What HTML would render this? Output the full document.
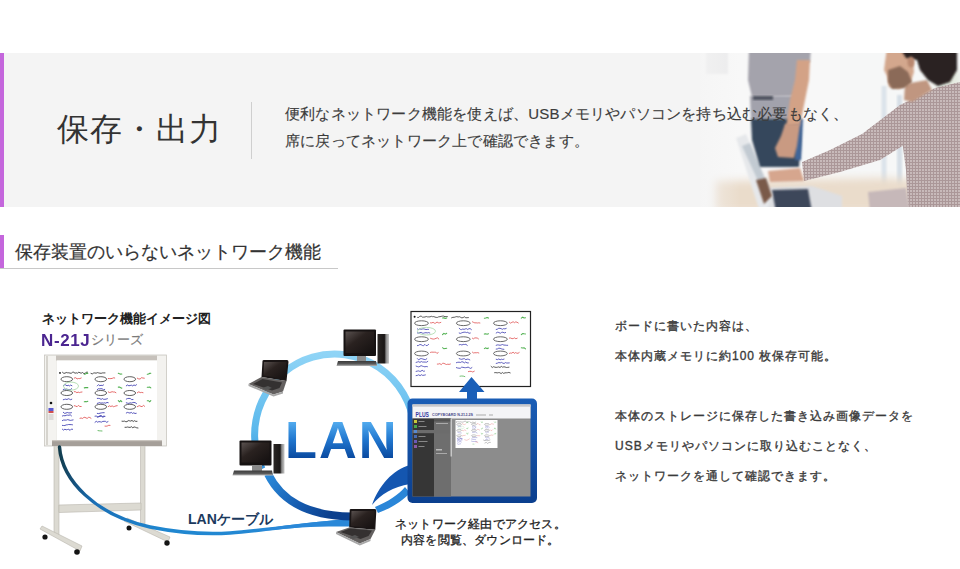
<!DOCTYPE html>
<html lang="ja">
<head>
<meta charset="utf-8">
<style>
html,body{margin:0;padding:0;background:#fff;}
body{width:960px;height:569px;overflow:hidden;position:relative;font-family:"Liberation Sans",sans-serif;color:#333;}
.abs{position:absolute;white-space:nowrap;}
#banner{position:absolute;left:0;top:53px;width:960px;height:154px;background:#f4f4f4;overflow:hidden;}
#banner .bar{position:absolute;left:0;top:0;width:4px;height:154px;background:#c466dc;}
#title{left:57px;top:60px;font-size:32px;line-height:32px;letter-spacing:1px;color:#333;}
#divider{position:absolute;left:251px;top:49px;width:1px;height:57px;background:#cfcfcf;}
.desc{left:285px;font-size:15px;line-height:15px;color:#3c3c3c;letter-spacing:0.2px;-webkit-text-stroke:0.15px #3c3c3c;}
#h2bar{position:absolute;left:0;top:235px;width:4px;height:33px;background:#c466dc;}
#h2line{position:absolute;left:0;top:268px;width:338px;height:1px;background:#c8c8c8;}
#h2{left:15px;top:243px;font-size:18px;line-height:18px;color:#333;-webkit-text-stroke:0.2px #333;}
.rt{left:615px;font-size:12px;line-height:12px;font-weight:normal;color:#3a3a3a;letter-spacing:1px;-webkit-text-stroke:0.35px #3a3a3a;}
#svg{position:absolute;left:0;top:0;}
</style>
</head>
<body>
<div id="banner">
  <svg width="960" height="154" style="position:absolute;left:0;top:0" viewBox="0 53 960 154">
    <defs>
      <linearGradient id="fadeL" x1="0" x2="1" y1="0" y2="0">
        <stop offset="0" stop-color="#f4f4f4" stop-opacity="1"/>
        <stop offset="1" stop-color="#f4f4f4" stop-opacity="0"/>
      </linearGradient>
      <pattern id="chk" width="3" height="3" patternUnits="userSpaceOnUse">
        <rect width="3" height="3" fill="#c8baba"/>
        <rect width="3" height="1" fill="#ab9798"/>
        <rect width="1" height="3" fill="#ab9798"/>
      </pattern>
      <filter id="b05" x="-10%" y="-10%" width="120%" height="120%"><feGaussianBlur stdDeviation="0.7"/></filter>
      <filter id="b1" x="-20%" y="-20%" width="140%" height="140%"><feGaussianBlur stdDeviation="1.2"/></filter>
      <filter id="b3" x="-20%" y="-20%" width="140%" height="140%"><feGaussianBlur stdDeviation="4"/></filter>
    </defs>
    <!-- photo background -->
    <rect x="700" y="53" width="260" height="154" fill="#f8f8f8"/>
    <rect x="840" y="53" width="120" height="154" fill="#f6f7f7"/>
    <!-- window frame strips -->
    <rect x="881.5" y="86" width="5" height="114" fill="#dbe3ea" filter="url(#b1)"/>
    <rect x="897" y="95" width="5" height="105" fill="#d6dee6" filter="url(#b1)"/>
    <rect x="936" y="70" width="24" height="50" fill="#e4eadf" filter="url(#b3)"/>
    <!-- table -->
    <path d="M715 181 L880 178 L960 182 L960 212 L715 212 Z" fill="#eadccb" filter="url(#b3)"/>
    <!-- laptop base silver -->
    <path d="M758 188 L812 186 L842 196 L842 212 L762 212 Z" fill="#dedfe2" filter="url(#b1)"/>
    <!-- keyboard -->
    <path d="M772 190 L808 189 L812 212 L776 212 Z" fill="#3e465a" filter="url(#b1)"/>
    <!-- laptop lid (silver, slanted) -->
    <path d="M736 138 L746 134 L772 196 L766 212 L760 212 Z" fill="#e6e8eb" filter="url(#b1)"/>
    <path d="M742 146 L750 143 L768 186 L763 192 Z" fill="#c2cad2" filter="url(#b1)"/>
    <path d="M756 180 L766 178 L772 196 L764 204 Z" fill="#7a5a4a" filter="url(#b1)"/>
    <!-- faint window top-left -->
    <rect x="706" y="48" width="22" height="26" fill="#ebebec" filter="url(#b1)"/>
    <!-- standing person: shirt -->
    <path d="M749 48 L811 48 L810 62 L800 64 L800 96 L752 97 L748 80 Z" fill="#a4a3ac" filter="url(#b1)"/>
    <!-- lower band -->
    <path d="M750 96 L798 96 L797 120 L751 120 Z" fill="#a2a2ac" filter="url(#b1)"/>
    <rect x="753" y="96" width="20" height="4" fill="#50535e" filter="url(#b1)"/>
    <!-- jeans -->
    <path d="M751 119 L801 119 L801 140 L799 167 L760 167 L752 140 Z" fill="#35465c" filter="url(#b1)"/>
    <path d="M795 119 L803 119 L801 160 L795 160 Z" fill="#3f6598" filter="url(#b1)"/>
    <!-- standing person arm -->
    <path d="M797 60 L810 60 L809 80 L805 100 L800 125 L786 127 L790 100 L795 80 Z" fill="#d3a286" filter="url(#b1)"/>
    <path d="M785 124 L800 124 L797 146 L794 158 L778 157 L775 148 L781 136 Z" fill="#c99a82" filter="url(#b1)"/>
    <!-- man's arm (sleeve) -->
    <path d="M802 162 L830 150 L862 134 L884 118 L902 108 L912 140 L880 160 L840 172 L804 181 Z" fill="url(#chk)" filter="url(#b05)"/>
    <!-- hand -->
    <path d="M768 171 L800 168 L804 181 L770 182 Z" fill="#d6a68e" filter="url(#b1)"/>
    <!-- man torso shirt -->
    <path d="M866 131 L900 105 L935 88 L960 82 L960 212 L908 212 L906 170 L902 140 Z" fill="url(#chk)" filter="url(#b05)"/>
    <path d="M868 192 L906 188 L910 212 L870 212 Z" fill="#c6b8b9" filter="url(#b1)"/>
    <!-- neck -->
    <path d="M905 84 L927 80 L932 90 L912 102 L904 100 Z" fill="#c09680" filter="url(#b1)"/>
    <!-- face -->
    <path d="M887 48 L912 48 L914 72 L910 84 L899 89 L889 87 L887 76 L884 70 L885 62 Z" fill="#d3a78d" filter="url(#b1)"/>
    <!-- beard -->
    <path d="M888 70 L900 66 L908 72 L912 82 L904 88 L892 89 L888 82 Z" fill="#8b6a58" filter="url(#b1)"/>
    <!-- hair -->
    <path d="M900 48 L957 48 L957 70 L950 82 L938 86 L928 80 L920 70 L917 60 L906 58 Z" fill="#2b2420" filter="url(#b1)"/>
    <!-- ear -->
    <ellipse cx="911" cy="62" rx="3.5" ry="5.5" fill="#b98870" filter="url(#b1)"/>
    <!-- fade to left -->
    <rect x="680" y="53" width="60" height="154" fill="url(#fadeL)"/>
  </svg>
  <div class="bar"></div>
  <div id="title" class="abs">保存・出力</div>
  <div id="divider"></div>
  <div class="abs desc" style="top:53px">便利なネットワーク機能を使えば、USBメモリやパソコンを持ち込む必要もなく、</div>
  <div class="abs desc" style="top:80px">席に戻ってネットワーク上で確認できます。</div>
</div>

<div id="h2bar"></div>
<div id="h2line"></div>
<div id="h2" class="abs">保存装置のいらないネットワーク機能</div>

<svg id="diag" width="960" height="569" viewBox="0 0 960 569" style="position:absolute;left:0;top:0">
  <defs>
    <linearGradient id="ringG" x1="0" y1="354" x2="0" y2="520" gradientUnits="userSpaceOnUse">
      <stop offset="0" stop-color="#8fd4f6"/>
      <stop offset="0.46" stop-color="#5ab8ec"/>
      <stop offset="0.73" stop-color="#2b8ad8"/>
      <stop offset="0.92" stop-color="#114a9c"/>
      <stop offset="1" stop-color="#0c3f8e"/>
    </linearGradient>
    <linearGradient id="ringLow" x1="268" y1="476" x2="330" y2="516" gradientUnits="userSpaceOnUse">
      <stop offset="0" stop-color="#2a88d8"/>
      <stop offset="0.6" stop-color="#1458ac"/>
      <stop offset="1" stop-color="#0c3f8c"/>
    </linearGradient>
    <linearGradient id="lanG" x1="0" y1="421" x2="0" y2="458" gradientUnits="userSpaceOnUse">
      <stop offset="0" stop-color="#55aef0"/>
      <stop offset="0.5" stop-color="#2177cf"/>
      <stop offset="1" stop-color="#0a4aa0"/>
    </linearGradient>
    <linearGradient id="cableG" x1="59" y1="0" x2="350" y2="0" gradientUnits="userSpaceOnUse">
      <stop offset="0" stop-color="#123c4c"/>
      <stop offset="0.05" stop-color="#15507a"/>
      <stop offset="0.12" stop-color="#1a6fb6"/>
      <stop offset="0.35" stop-color="#1f86cf"/>
      <stop offset="1" stop-color="#2a8ad8"/>
    </linearGradient>
    <linearGradient id="monG" x1="0" y1="0" x2="1" y2="1">
      <stop offset="0" stop-color="#5a5250"/>
      <stop offset="0.4" stop-color="#2a2220"/>
      <stop offset="1" stop-color="#141010"/>
    </linearGradient>
    <linearGradient id="towerG" x1="0" y1="0" x2="1" y2="0">
      <stop offset="0" stop-color="#2a2624"/>
      <stop offset="0.6" stop-color="#1a1716"/>
      <stop offset="0.75" stop-color="#8a8a8a"/>
      <stop offset="1" stop-color="#c8c8c8"/>
    </linearGradient>
    <linearGradient id="kbG" x1="0" y1="0" x2="0" y2="1">
      <stop offset="0" stop-color="#3a3a3a"/>
      <stop offset="0.6" stop-color="#5a5a5a"/>
      <stop offset="1" stop-color="#b8b8b8"/>
    </linearGradient>
    <linearGradient id="frameG" x1="0" y1="0" x2="0" y2="1">
      <stop offset="0" stop-color="#1a5db5"/>
      <stop offset="1" stop-color="#0b3f8e"/>
    </linearGradient>
    <filter id="sb" x="-10%" y="-10%" width="120%" height="120%"><feGaussianBlur stdDeviation="0.5"/></filter>
  </defs>

  <!-- ===== Whiteboard stand ===== -->
  <g fill="#dcdad2" stroke="#b9b6ad" stroke-width="0.6">
    <rect x="54" y="444" width="5" height="91"/>
    <rect x="140.5" y="444" width="4.5" height="80"/>
    <path d="M59 505 L141 503 L141 510 L59 512.5 Z"/>
    <path d="M40 529 L42 526 L82 546 L80 551 Z"/>
    <path d="M124 521 L127 518 L170 537 L168 542 Z"/>
  </g>
  <g fill="#141414">
    <circle cx="45" cy="537" r="2.6"/>
    <circle cx="77" cy="552" r="2.8"/>
    <circle cx="129" cy="528" r="2.5"/>
    <circle cx="167" cy="543" r="2.7"/>
  </g>

  <!-- ===== Whiteboard ===== -->
  <rect x="44.5" y="355" width="122" height="91" fill="#efeeea" stroke="#c9c6c0" stroke-width="0.8"/>
  <rect x="45" y="356" width="11" height="89" fill="#f4f3f0"/>
  <rect x="46" y="356" width="2" height="89" fill="#d6d4ce"/>
  <rect x="157" y="356" width="9" height="89" fill="#f3f2ef"/>
  <rect x="56" y="355.5" width="101" height="5" fill="#c6c1bb"/>
  <rect x="57" y="360.5" width="100" height="80" fill="#ffffff"/>
  <rect x="52" y="440" width="110" height="6" fill="#a59f99"/>
  <rect x="52" y="440" width="110" height="1.2" fill="#c9c4be"/>
  <circle cx="51" cy="403" r="1.3" fill="#111"/>
  <rect x="48.5" y="408" width="5" height="3" fill="#5a5ad0"/>
  <rect x="48.5" y="411" width="5" height="2" fill="#d05050"/>
  <rect x="48.5" y="414" width="5" height="6" fill="#dcdad8"/>
  <g>
<circle cx="60.0" cy="372.9" r="0.9" fill="#111"/>
<polyline points="62.5 372.3 63.8 373.3 65.0 373.2 66.2 372.5 67.5 372.8 68.8 372.8 70.0 373.1 71.2 373.3 72.5 372.3 73.8 372.2 75.0 373.3 76.2 372.8 77.5 373.2 78.8 372.2 80.0 372.8 81.2 373.2 82.5 372.5 83.8 373.5 85.0 373.4 86.2 372.2 87.5 372.2" fill="none" stroke="#333" stroke-width="0.85" stroke-linecap="round"/>
<polyline points="91.0 373.4 92.3 373.9 93.5 373.1 94.8 372.9 96.1 373.2 97.4 372.6 98.6 372.9 99.9 373.2 101.2 373.3 102.5 372.9 103.7 372.9 105.0 372.9" fill="none" stroke="#333" stroke-width="0.85" stroke-linecap="round"/>
<ellipse cx="66.8" cy="379.2" rx="5.8" ry="2.5" fill="none" stroke="#555" stroke-width="0.94"/>
<polyline points="74.3 378.1 75.7 377.7 77.1 378.9 78.4 378.5 79.8 378.6 81.2 378.0" fill="none" stroke="#e05050" stroke-width="0.85" stroke-linecap="round"/>
<polyline points="84.3 374.3 85.5 374.1 86.7 373.1 87.8 373.4" fill="none" stroke="#50b050" stroke-width="1.10" stroke-linecap="round"/>
<polyline points="63.3 385.8 64.5 384.8 65.8 384.9 67.0 385.9 68.2 385.2 69.4 385.9 70.6 385.1 71.9 385.7" fill="none" stroke="#3a3ab0" stroke-width="0.85" stroke-linecap="round"/>
<polyline points="63.3 389.5 64.5 389.1 65.7 389.4 66.9 389.0 68.1 389.7 69.3 389.6 70.5 389.5 71.7 388.6" fill="none" stroke="#3a3ab0" stroke-width="0.85" stroke-linecap="round"/>
<ellipse cx="66.8" cy="393.0" rx="5.8" ry="2.5" fill="none" stroke="#555" stroke-width="0.94"/>
<polyline points="74.3 391.7 75.6 391.8 76.9 392.7 78.2 392.1 79.4 392.6 80.7 392.2 82.0 392.0" fill="none" stroke="#e05050" stroke-width="0.85" stroke-linecap="round"/>
<polyline points="84.3 387.9 85.5 387.6 86.7 387.5 87.8 387.6" fill="none" stroke="#50b050" stroke-width="1.10" stroke-linecap="round"/>
<polyline points="63.3 399.7 64.5 399.4 65.8 399.1 67.0 399.6 68.2 398.7 69.4 399.1 70.6 399.7 71.8 399.2" fill="none" stroke="#3a3ab0" stroke-width="0.85" stroke-linecap="round"/>
<ellipse cx="66.8" cy="406.8" rx="5.8" ry="2.5" fill="none" stroke="#555" stroke-width="0.94"/>
<polyline points="74.3 405.7 75.7 406.1 77.1 406.7 78.4 405.4 79.8 406.5 81.2 406.5" fill="none" stroke="#e05050" stroke-width="0.85" stroke-linecap="round"/>
<polyline points="84.3 401.8 85.5 401.6 86.7 401.7 87.8 401.3" fill="none" stroke="#50b050" stroke-width="1.10" stroke-linecap="round"/>
<polyline points="63.3 412.3 64.7 413.4 66.0 413.0 67.4 412.5 68.7 412.9 70.1 412.9 71.5 412.7" fill="none" stroke="#3a3ab0" stroke-width="0.85" stroke-linecap="round"/>
<ellipse cx="100.8" cy="379.2" rx="5.8" ry="2.5" fill="none" stroke="#555" stroke-width="0.94"/>
<polyline points="108.3 378.5 109.6 378.6 110.9 378.6 112.2 378.4 113.4 377.8 114.7 378.0" fill="none" stroke="#e05050" stroke-width="0.85" stroke-linecap="round"/>
<polyline points="118.3 373.2 119.5 373.7 120.7 374.1 121.8 374.0" fill="none" stroke="#50b050" stroke-width="1.10" stroke-linecap="round"/>
<polyline points="97.3 385.9 98.6 384.6 99.8 385.8 101.0 385.2 102.2 385.6 103.5 384.9" fill="none" stroke="#3a3ab0" stroke-width="0.85" stroke-linecap="round"/>
<polyline points="97.3 389.6 98.5 388.7 99.8 388.9 101.0 388.7 102.2 388.8 103.4 389.8 104.7 389.4" fill="none" stroke="#3a3ab0" stroke-width="0.85" stroke-linecap="round"/>
<ellipse cx="100.8" cy="393.0" rx="5.8" ry="2.5" fill="none" stroke="#555" stroke-width="0.94"/>
<polyline points="108.3 391.9 109.6 392.5 110.9 392.2 112.1 391.7 113.4 392.0 114.7 392.0 115.9 392.7" fill="none" stroke="#e05050" stroke-width="0.85" stroke-linecap="round"/>
<polyline points="118.3 387.1 119.5 387.1 120.7 387.8 121.8 388.1" fill="none" stroke="#50b050" stroke-width="1.10" stroke-linecap="round"/>
<polyline points="97.3 398.4 98.6 398.4 99.8 398.6 101.1 399.4 102.4 398.6 103.6 399.3 104.9 399.3 106.1 399.1 107.4 398.7" fill="none" stroke="#3a3ab0" stroke-width="0.85" stroke-linecap="round"/>
<polyline points="97.3 403.4 98.5 403.0 99.7 402.6 100.9 403.2 102.2 402.9 103.4 403.1 104.6 402.8 105.8 403.2 107.0 402.4 108.2 402.7" fill="none" stroke="#3a3ab0" stroke-width="0.85" stroke-linecap="round"/>
<ellipse cx="100.8" cy="406.8" rx="5.8" ry="2.5" fill="none" stroke="#555" stroke-width="0.94"/>
<polyline points="108.3 406.6 109.6 405.8 110.9 406.6 112.1 405.8 113.4 406.7 114.7 406.4 115.9 405.9 117.2 405.7" fill="none" stroke="#e05050" stroke-width="0.85" stroke-linecap="round"/>
<polyline points="118.3 400.6 119.5 401.8 120.7 400.6 121.8 401.7" fill="none" stroke="#50b050" stroke-width="1.10" stroke-linecap="round"/>
<polyline points="97.3 413.4 98.7 413.6 100.1 413.2 101.4 412.9 102.8 412.7 104.2 412.7" fill="none" stroke="#3a3ab0" stroke-width="0.85" stroke-linecap="round"/>
<polyline points="97.3 417.1 98.7 416.7 100.1 416.4 101.5 416.3 102.9 417.1 104.3 416.6" fill="none" stroke="#3a3ab0" stroke-width="0.85" stroke-linecap="round"/>
<ellipse cx="129.8" cy="379.2" rx="5.8" ry="2.5" fill="none" stroke="#555" stroke-width="0.94"/>
<polyline points="137.3 378.2 138.7 378.9 140.1 379.0 141.5 377.7 142.9 378.0 144.3 378.2" fill="none" stroke="#e05050" stroke-width="0.85" stroke-linecap="round"/>
<polyline points="147.3 374.3 148.5 374.0 149.7 373.4 150.8 373.2" fill="none" stroke="#50b050" stroke-width="1.10" stroke-linecap="round"/>
<polyline points="126.3 385.8 127.6 385.0 128.9 385.8 130.1 385.5 131.4 385.2 132.7 385.9 134.0 384.9 135.2 385.6 136.5 384.7" fill="none" stroke="#3a3ab0" stroke-width="0.85" stroke-linecap="round"/>
<ellipse cx="129.8" cy="393.0" rx="5.8" ry="2.5" fill="none" stroke="#555" stroke-width="0.94"/>
<polyline points="137.3 392.8 138.8 391.8 140.2 392.6 141.6 392.4 143.0 392.7" fill="none" stroke="#e05050" stroke-width="0.85" stroke-linecap="round"/>
<polyline points="147.3 387.2 148.5 387.2 149.7 387.1 150.8 387.9" fill="none" stroke="#50b050" stroke-width="1.10" stroke-linecap="round"/>
<polyline points="126.3 399.1 127.7 398.5 129.0 398.4 130.3 398.5 131.7 399.6 133.0 399.5" fill="none" stroke="#3a3ab0" stroke-width="0.85" stroke-linecap="round"/>
<polyline points="126.3 402.8 127.6 403.2 128.9 403.4 130.1 402.8 131.4 403.1 132.7 402.6 133.9 402.4 135.2 402.7 136.5 403.6" fill="none" stroke="#3a3ab0" stroke-width="0.85" stroke-linecap="round"/>
<ellipse cx="129.8" cy="406.8" rx="5.8" ry="2.5" fill="none" stroke="#555" stroke-width="0.94"/>
<polyline points="137.3 406.7 138.5 406.0 139.8 405.7 141.0 406.5 142.2 406.5 143.4 405.4 144.6 406.3" fill="none" stroke="#e05050" stroke-width="0.85" stroke-linecap="round"/>
<polyline points="147.3 400.7 148.5 400.7 149.7 401.8 150.8 400.6" fill="none" stroke="#50b050" stroke-width="1.10" stroke-linecap="round"/>
<polyline points="126.3 413.0 127.6 412.4 128.8 412.8 130.0 413.1 131.3 412.4 132.5 413.4 133.8 412.8 135.0 413.5 136.2 413.3" fill="none" stroke="#3a3ab0" stroke-width="0.85" stroke-linecap="round"/>
<polyline points="62.4 416.0 63.7 415.6 65.0 415.8 66.3 415.3 67.6 415.1 68.9 415.3 70.2 414.8 71.5 415.9" fill="none" stroke="#3a3ab0" stroke-width="0.85" stroke-linecap="round"/>
<polyline points="62.4 420.6 63.7 420.0 65.0 420.1 66.4 420.1 67.7 419.6 69.0 420.0 70.4 420.4 71.7 420.2 73.1 419.9" fill="none" stroke="#3a3ab0" stroke-width="0.85" stroke-linecap="round"/>
<polyline points="62.4 425.4 63.6 425.5 64.9 425.5 66.2 424.9 67.4 424.8 68.7 424.5 70.0 424.6 71.2 424.6 72.5 424.8" fill="none" stroke="#3a3ab0" stroke-width="0.85" stroke-linecap="round"/>
<polyline points="62.4 429.2 63.6 430.1 64.9 429.2 66.2 429.8 67.5 429.5 68.8 429.3 70.1 430.4 71.3 429.1 72.6 429.3" fill="none" stroke="#3a3ab0" stroke-width="0.85" stroke-linecap="round"/>
<polyline points="80.0 418.3 81.2 418.0 82.4 418.5 83.7 417.5 84.9 417.3 86.1 418.0 87.3 418.3 88.6 417.3 89.8 417.5 91.0 418.3" fill="none" stroke="#e05050" stroke-width="0.85" stroke-linecap="round"/>
<polyline points="95.0 416.2 96.2 416.0 97.5 416.8 98.8 416.6 100.0 415.6 101.2 415.6 102.5 416.7 103.8 416.1 105.0 416.3" fill="none" stroke="#3a3ab0" stroke-width="0.85" stroke-linecap="round"/>
<polyline points="95.0 422.3 96.3 421.3 97.6 422.2 98.9 421.6 100.2 421.8 101.5 422.1 102.8 421.4 104.1 421.3 105.4 421.3 106.7 422.3 108.0 421.6" fill="none" stroke="#3a3ab0" stroke-width="0.85" stroke-linecap="round"/>
<polyline points="105.0 426.1 106.2 426.2 107.5 425.9 108.8 425.3 110.0 425.4" fill="none" stroke="#e05050" stroke-width="0.85" stroke-linecap="round"/>
<polyline points="98.0 430.6 99.3 430.8 100.7 430.9 102.0 431.0" fill="none" stroke="#50b050" stroke-width="0.85" stroke-linecap="round"/>
<polyline points="122.0 421.2 123.2 421.3 124.5 421.1 125.8 421.7 127.0 421.7 128.2 420.6 129.5 420.8 130.8 421.1 132.0 420.4 133.2 421.5 134.5 420.7 135.8 421.4 137.0 421.3" fill="none" stroke="#333" stroke-width="0.85" stroke-linecap="round"/>
<polyline points="125.0 427.3 126.3 427.3 127.6 427.0 128.9 427.3 130.2 427.4 131.5 426.7 132.8 427.8 134.1 426.9 135.4 427.3 136.7 427.8 138.0 428.0" fill="none" stroke="#333" stroke-width="0.85" stroke-linecap="round"/>
<ellipse cx="71.0" cy="386.1" rx="7.5" ry="4.0" fill="none" stroke="#a8d8a8" stroke-width="0.85"/>
  </g>

  <!-- ===== LAN cable ===== -->
  <path d="M59.5 447 C 62 480, 95 515, 150 527 C 175 532, 200 535, 230 533 C 270 530, 310 523, 350 521" fill="none" stroke="url(#cableG)" stroke-width="3.4" stroke-linecap="round"/>
  <path d="M262 529 C 295 524, 322 521, 350 519 L 350 526.5 C 322 526, 295 527, 262 531 Z" fill="#2a88d8"/>

  <!-- ===== LAN ring ===== -->
  <path d="M262 469 A 80 81 0 1 1 414 425" fill="none" stroke="url(#ringG)" stroke-width="7"/>
  <path d="M268 474 C 281 500, 306 516, 352 516.5" fill="none" stroke="url(#ringLow)" stroke-width="8"/>
  <!-- swoosh from ring to screen -->
  <path d="M410 465 C 393 469, 378 487, 372 505 C 381 494, 393 487, 410 484 Z" fill="#1456b0"/>
  <path d="M405 487 C 398 495, 389 501, 375 507 L 378 513 C 392 508, 402 501, 410 493 Z" fill="#2a86d8"/>

  <!-- LAN text -->
  <text x="285" y="458" font-family="Liberation Sans" font-weight="bold" font-size="52.3" letter-spacing="2" fill="url(#lanG)">LAN</text>

  <!-- ===== Top desktop ===== -->
  <g>
    <rect x="343.5" y="329.5" width="32.5" height="26.5" rx="1" fill="#161212"/><rect x="345.5" y="331.5" width="28.5" height="21.5" fill="url(#monG)"/>
    <rect x="357" y="356" width="9" height="5" fill="#8a8a8a"/>
    <path d="M338 361 L376 361 L377 366 L336.5 366 Z" fill="url(#kbG)"/>
    <rect x="377.5" y="334" width="11.5" height="29.5" fill="url(#towerG)"/>
  </g>
  <!-- ===== Left desktop ===== -->
  <g>
    <rect x="239.5" y="440.5" width="32" height="25" rx="1" fill="#161212"/><rect x="241.5" y="442.5" width="28" height="20" fill="url(#monG)"/>
    <rect x="252" y="465" width="10" height="6" fill="#8a8a8a"/>
    <path d="M234 470.5 L272 470.5 L273 475.5 L232.5 475.5 Z" fill="url(#kbG)"/>
    <rect x="273.5" y="444" width="11" height="29.5" fill="url(#towerG)"/>
  </g>
  <!-- ===== Upper-left laptop ===== -->
  <g>
    <path d="M262.5 361 Q262.5 360 264 360 L287 360 Q288.5 360 288.5 362 L286.5 381 L261.5 377 Z" fill="#1a1515"/>
    <path d="M264 362 L286.5 362 L285 379 L263.5 375.5 Z" fill="url(#monG)"/>
    <path d="M248.5 384 L261.5 377 L286.5 381 L283 391.5 L273.5 394.5 Z" fill="#646160"/>
    <path d="M253 384 L262.5 379 L282 382.5 L279.5 388 L272 390.5 Z" fill="#343131"/>
    <path d="M262 388 L268 386 L272 388 L266 390 Z" fill="#555"/>
    <path d="M248.5 384 L273.5 394.5 L283 391.5 L283 393.5 L273.5 396.5 L248.5 386 Z" fill="#a8a8a8"/>
  </g>
  <!-- ===== Bottom laptop ===== -->
  <g>
    <path d="M349.7 510 Q349.7 509 351 509 L375 509 Q376.3 509 376.3 511 L375.3 529.8 L349.2 527.4 Z" fill="#1a1515"/>
    <path d="M351.5 511 L374.5 511 L373.8 528 L351 526 Z" fill="url(#monG)"/>
    <path d="M336 532 L349.2 527.4 L375.3 529.8 L370.5 539 L359.8 543.4 Z" fill="#646160"/>
    <path d="M340.5 532 L350 528.5 L372 530.5 L368.5 536 L360.5 539 Z" fill="#343131"/>
    <path d="M349 537 L355 535 L359 537 L353 539 Z" fill="#555"/>
    <path d="M336 532 L359.8 543.4 L370.5 539 L370.5 541 L359.8 545.5 L336 534 Z" fill="#a8a8a8"/>
  </g>

  <!-- ===== Printed whiteboard image ===== -->
  <rect x="411" y="311.5" width="119.5" height="75" fill="#fff" stroke="#222" stroke-width="1.2"/>
  <g>
<circle cx="414.6" cy="316.8" r="1.0" fill="#111"/>
<polyline points="417.6 317.4 418.8 317.4 420.1 316.1 421.3 316.2 422.6 317.2 423.8 317.1 425.0 317.0 426.3 316.5 427.5 316.9 428.8 316.9 430.0 316.9 431.3 316.3 432.5 316.7 433.8 316.6 435.0 317.1 436.2 317.4 437.5 317.4 438.7 316.8 440.0 316.7 441.2 316.4 442.5 316.1 443.7 316.1 445.0 316.7 446.2 316.5 447.4 316.6" fill="none" stroke="#333" stroke-width="0.80" stroke-linecap="round"/>
<polyline points="451.6 317.8 452.9 317.3 454.2 317.3 455.5 316.9 456.8 316.6 458.1 317.0 459.4 316.7 460.6 317.3 461.9 317.9 463.2 317.5 464.5 316.8 465.8 317.8 467.1 317.7 468.4 317.6" fill="none" stroke="#333" stroke-width="0.80" stroke-linecap="round"/>
<ellipse cx="421.5" cy="323.2" rx="6.9" ry="2.4" fill="none" stroke="#555" stroke-width="0.88"/>
<polyline points="430.5 322.8 431.8 322.9 433.1 322.3 434.4 323.2 435.7 323.1 437.0 322.0 438.3 322.8 439.5 322.8 440.8 322.4" fill="none" stroke="#e05050" stroke-width="0.80" stroke-linecap="round"/>
<polyline points="442.5 318.0 443.9 317.9 445.3 318.5 446.7 317.9" fill="none" stroke="#50b050" stroke-width="1.04" stroke-linecap="round"/>
<polyline points="417.4 328.9 418.6 329.5 419.8 328.8 421.1 329.3 422.3 329.0 423.5 328.9 424.8 329.2 426.0 329.6 427.2 329.4 428.5 329.4" fill="none" stroke="#3a3ab0" stroke-width="0.80" stroke-linecap="round"/>
<polyline points="417.4 332.9 418.6 333.1 419.8 332.7 421.1 332.4 422.3 333.1 423.6 333.2 424.8 332.8 426.0 332.7 427.3 332.9 428.5 332.6 429.8 333.0" fill="none" stroke="#3a3ab0" stroke-width="0.80" stroke-linecap="round"/>
<ellipse cx="421.5" cy="339.2" rx="6.9" ry="2.4" fill="none" stroke="#555" stroke-width="0.88"/>
<polyline points="430.5 338.3 431.9 338.8 433.3 339.1 434.7 338.9 436.1 338.3 437.5 337.8 438.8 339.0" fill="none" stroke="#e05050" stroke-width="0.80" stroke-linecap="round"/>
<polyline points="442.5 334.7 443.9 333.4 445.3 334.1 446.7 333.3" fill="none" stroke="#50b050" stroke-width="1.04" stroke-linecap="round"/>
<polyline points="417.4 345.6 418.6 345.4 419.9 344.5 421.1 344.7 422.4 345.5 423.6 345.6 424.9 344.4 426.1 345.6 427.4 345.4 428.6 344.4" fill="none" stroke="#3a3ab0" stroke-width="0.80" stroke-linecap="round"/>
<ellipse cx="421.5" cy="353.5" rx="6.9" ry="2.4" fill="none" stroke="#555" stroke-width="0.88"/>
<polyline points="430.5 352.4 431.8 352.1 433.1 352.2 434.4 352.2 435.7 352.1 436.9 353.4 438.2 352.6" fill="none" stroke="#e05050" stroke-width="0.80" stroke-linecap="round"/>
<polyline points="442.5 347.7 443.9 348.8 445.3 348.5 446.7 348.3" fill="none" stroke="#50b050" stroke-width="1.04" stroke-linecap="round"/>
<polyline points="417.4 358.6 418.7 359.9 420.1 358.8 421.4 358.6 422.8 359.0 424.1 359.4 425.5 359.6 426.8 358.7" fill="none" stroke="#3a3ab0" stroke-width="0.80" stroke-linecap="round"/>
<ellipse cx="463.3" cy="323.2" rx="6.9" ry="2.4" fill="none" stroke="#555" stroke-width="0.88"/>
<polyline points="472.4 321.8 473.6 322.4 474.9 322.9 476.1 322.8 477.4 323.0 478.7 322.8 479.9 323.0" fill="none" stroke="#e05050" stroke-width="0.80" stroke-linecap="round"/>
<polyline points="484.3 318.2 485.7 317.9 487.1 317.5 488.5 318.1" fill="none" stroke="#50b050" stroke-width="1.04" stroke-linecap="round"/>
<polyline points="459.2 328.3 460.4 329.4 461.6 329.6 462.8 329.0 464.1 329.4 465.3 328.9 466.5 328.7 467.7 329.5 468.9 328.7 470.1 328.6 471.4 329.6" fill="none" stroke="#3a3ab0" stroke-width="0.80" stroke-linecap="round"/>
<polyline points="459.2 333.0 460.4 333.4 461.6 332.9 462.9 332.4 464.1 332.2 465.3 332.2 466.6 332.6 467.8 332.3 469.0 333.3 470.3 333.0" fill="none" stroke="#3a3ab0" stroke-width="0.80" stroke-linecap="round"/>
<ellipse cx="463.3" cy="339.2" rx="6.9" ry="2.4" fill="none" stroke="#555" stroke-width="0.88"/>
<polyline points="472.4 338.2 473.6 338.8 474.8 337.9 476.0 337.9 477.3 338.1 478.5 338.9" fill="none" stroke="#e05050" stroke-width="0.80" stroke-linecap="round"/>
<polyline points="484.3 334.1 485.7 333.8 487.1 334.2 488.5 333.7" fill="none" stroke="#50b050" stroke-width="1.04" stroke-linecap="round"/>
<polyline points="459.2 344.8 460.5 344.5 461.9 345.0 463.2 344.4 464.6 344.5 465.9 344.3 467.3 345.4" fill="none" stroke="#3a3ab0" stroke-width="0.80" stroke-linecap="round"/>
<ellipse cx="463.3" cy="353.5" rx="6.9" ry="2.4" fill="none" stroke="#555" stroke-width="0.88"/>
<polyline points="472.4 352.1 473.6 353.0 474.9 352.7 476.2 352.8 477.5 352.6 478.8 353.0" fill="none" stroke="#e05050" stroke-width="0.80" stroke-linecap="round"/>
<polyline points="484.3 348.6 485.7 347.8 487.1 348.6 488.5 348.1" fill="none" stroke="#50b050" stroke-width="1.04" stroke-linecap="round"/>
<polyline points="459.2 358.6 460.5 359.1 461.8 359.3 463.2 358.8 464.5 358.7 465.8 359.7 467.2 359.1 468.5 359.3 469.8 359.9" fill="none" stroke="#3a3ab0" stroke-width="0.80" stroke-linecap="round"/>
<ellipse cx="500.4" cy="323.2" rx="6.9" ry="2.4" fill="none" stroke="#555" stroke-width="0.88"/>
<polyline points="509.4 322.2 510.7 323.2 511.9 322.3 513.2 321.8 514.5 322.7 515.7 321.9 517.0 322.2 518.3 323.0" fill="none" stroke="#e05050" stroke-width="0.80" stroke-linecap="round"/>
<polyline points="521.3 318.2 522.7 317.2 524.1 317.9 525.5 317.8" fill="none" stroke="#50b050" stroke-width="1.04" stroke-linecap="round"/>
<polyline points="496.2 329.5 497.5 329.1 498.7 328.3 500.0 328.3 501.2 328.7 502.4 329.3 503.7 328.6 504.9 328.9 506.2 328.4" fill="none" stroke="#3a3ab0" stroke-width="0.80" stroke-linecap="round"/>
<polyline points="496.2 333.0 497.6 332.2 498.9 332.5 500.3 333.3 501.6 332.4 502.9 332.2 504.3 332.9 505.6 332.5" fill="none" stroke="#3a3ab0" stroke-width="0.80" stroke-linecap="round"/>
<ellipse cx="500.4" cy="339.2" rx="6.9" ry="2.4" fill="none" stroke="#555" stroke-width="0.88"/>
<polyline points="509.4 338.1 510.7 338.0 512.0 338.7 513.3 338.5 514.6 337.9 515.9 338.8 517.2 338.2" fill="none" stroke="#e05050" stroke-width="0.80" stroke-linecap="round"/>
<polyline points="521.3 334.6 522.7 333.5 524.1 333.8 525.5 333.9" fill="none" stroke="#50b050" stroke-width="1.04" stroke-linecap="round"/>
<polyline points="496.2 345.3 497.5 344.9 498.8 345.0 500.1 345.3 501.3 344.9 502.6 344.5 503.9 345.1 505.1 345.1 506.4 345.3 507.7 345.3" fill="none" stroke="#3a3ab0" stroke-width="0.80" stroke-linecap="round"/>
<polyline points="496.2 349.1 497.5 348.9 498.8 348.2 500.1 348.3 501.3 348.8 502.6 349.2 503.9 349.3" fill="none" stroke="#3a3ab0" stroke-width="0.80" stroke-linecap="round"/>
<ellipse cx="500.4" cy="353.5" rx="6.9" ry="2.4" fill="none" stroke="#555" stroke-width="0.88"/>
<polyline points="509.4 353.4 510.6 353.0 511.8 353.2 513.1 352.1 514.3 353.4 515.5 352.6 516.7 353.1 518.0 353.3 519.2 352.5" fill="none" stroke="#e05050" stroke-width="0.80" stroke-linecap="round"/>
<polyline points="521.3 347.8 522.7 347.9 524.1 347.7 525.5 348.9" fill="none" stroke="#50b050" stroke-width="1.04" stroke-linecap="round"/>
<polyline points="496.2 359.3 497.5 359.6 498.8 358.9 500.1 359.8 501.4 359.2 502.7 359.5 504.0 359.1" fill="none" stroke="#3a3ab0" stroke-width="0.80" stroke-linecap="round"/>
<polyline points="496.2 363.4 497.5 363.1 498.9 362.5 500.2 362.9 501.5 362.4 502.8 363.1 504.1 363.5 505.4 362.6 506.7 363.0 508.0 363.0 509.3 362.9" fill="none" stroke="#3a3ab0" stroke-width="0.80" stroke-linecap="round"/>
<polyline points="416.1 362.4 417.4 362.0 418.7 361.7 420.0 362.4 421.3 361.5 422.6 362.1 423.9 362.0 425.2 362.1 426.5 362.2 427.8 361.4" fill="none" stroke="#3a3ab0" stroke-width="0.80" stroke-linecap="round"/>
<polyline points="416.1 366.1 417.3 366.5 418.6 366.9 419.9 366.4 421.1 365.6 422.4 366.2 423.6 366.5 424.9 366.8 426.2 366.5 427.4 366.7" fill="none" stroke="#3a3ab0" stroke-width="0.80" stroke-linecap="round"/>
<polyline points="416.1 371.4 417.3 371.1 418.5 370.9 419.7 371.3 420.9 371.3 422.1 370.2 423.3 371.2 424.5 371.1" fill="none" stroke="#3a3ab0" stroke-width="0.80" stroke-linecap="round"/>
<polyline points="416.1 375.6 417.4 375.4 418.7 374.8 420.1 375.7 421.4 374.7 422.7 375.4 424.1 375.2 425.4 374.9" fill="none" stroke="#3a3ab0" stroke-width="0.80" stroke-linecap="round"/>
<polyline points="437.3 364.1 438.6 364.0 439.9 363.6 441.2 364.7 442.5 363.4 443.9 363.3 445.2 364.0 446.5 364.5 447.8 364.2 449.1 364.4 450.4 364.0" fill="none" stroke="#e05050" stroke-width="0.80" stroke-linecap="round"/>
<polyline points="456.4 362.7 457.7 362.3 459.1 362.2 460.4 362.5 461.7 361.8 463.0 361.9 464.4 362.9 465.7 362.0 467.0 362.9 468.4 362.9" fill="none" stroke="#3a3ab0" stroke-width="0.80" stroke-linecap="round"/>
<polyline points="456.4 367.6 457.7 368.0 459.0 368.2 460.3 368.3 461.6 367.2 462.9 367.3 464.2 367.6 465.5 367.7 466.8 367.5 468.1 367.1 469.4 367.8 470.7 368.4 471.9 367.6" fill="none" stroke="#3a3ab0" stroke-width="0.80" stroke-linecap="round"/>
<polyline points="468.4 371.6 469.9 371.3 471.3 371.4 472.8 372.0 474.3 371.2" fill="none" stroke="#e05050" stroke-width="0.80" stroke-linecap="round"/>
<polyline points="460.0 376.2 461.6 376.0 463.2 376.1 464.8 376.6" fill="none" stroke="#50b050" stroke-width="0.80" stroke-linecap="round"/>
<polyline points="491.1 366.4 492.3 367.5 493.6 366.7 494.9 367.2 496.2 367.4 497.5 367.2 498.7 366.9 500.0 367.5 501.3 366.4 502.6 367.2 503.9 366.8 505.1 367.0 506.4 367.5 507.7 367.4 509.0 367.2" fill="none" stroke="#333" stroke-width="0.80" stroke-linecap="round"/>
<polyline points="494.6 372.7 495.9 372.6 497.2 372.9 498.5 372.6 499.8 372.7 501.1 373.6 502.4 372.5 503.7 373.4 505.0 372.8 506.3 372.8 507.6 372.7 508.9 372.4 510.2 372.9" fill="none" stroke="#333" stroke-width="0.80" stroke-linecap="round"/>
<ellipse cx="426.5" cy="331.2" rx="9.0" ry="3.8" fill="none" stroke="#a8d8a8" stroke-width="0.80"/>
  </g>
  <!-- arrow -->
  <path d="M471.5 377 L484.5 392 L477 392 L477 399 L467 399 L467 392 L459 392 Z" fill="#1a5fb8"/>

  <!-- ===== Screen ===== -->
  <rect x="407.5" y="398.5" width="129.5" height="104.5" rx="5" fill="url(#frameG)"/>
  <rect x="412.5" y="404.5" width="118" height="92" fill="#8c8c8c"/>
  <rect x="412.5" y="404.5" width="118" height="14" fill="#f4f4f6"/>
  <rect x="412.5" y="404.5" width="118" height="2.2" fill="#c8c8cc"/>
  <text x="415.5" y="416.5" font-family="Liberation Sans" font-weight="bold" font-size="8" textLength="13.5" lengthAdjust="spacingAndGlyphs" fill="#3a3aa0">PLUS</text>
  <text x="432" y="416.4" font-family="Liberation Sans" font-weight="bold" font-size="4" textLength="41" lengthAdjust="spacingAndGlyphs" fill="#4a4a8a">COPYBOARD N-21J-2S</text><rect x="476" y="414.5" width="10" height="1" fill="#aaa"/><rect x="489" y="414.5" width="4" height="1" fill="#aaa"/>
  <rect x="412.5" y="418.5" width="21.5" height="78" fill="#363636"/>
  <rect x="434" y="418.5" width="17" height="78" fill="#6e6e6e"/>
  <rect x="434" y="418.5" width="17" height="3" fill="#555"/>
  <rect x="412.5" y="430" width="38.5" height="3.2" fill="#6c6c6c"/>
  <rect x="450.5" y="418.5" width="1.5" height="38" fill="#c8c8c8"/>
  <g fill="#999">
    <rect x="414" y="420" width="3" height="3" fill="#c9c83a"/>
    <rect x="414" y="425" width="3" height="3" fill="#4aa84a"/>
    <rect x="414" y="430" width="3" height="3" fill="#5a8ad0"/>
    <rect x="414" y="435" width="3" height="3" fill="#4a6ab0"/>
    <rect x="414" y="440" width="3" height="3" fill="#6a5ab8"/>
    <rect x="414" y="445" width="3" height="3" fill="#8a5aa8"/>
    <rect x="418.5" y="421" width="6" height="1" fill="#888"/>
    <rect x="418.5" y="426" width="8" height="1" fill="#888"/>
    <rect x="418.5" y="436" width="7" height="1" fill="#888"/>
    <rect x="418.5" y="441" width="9" height="1" fill="#888"/>
    <rect x="418.5" y="446" width="6" height="1" fill="#888"/>
    <rect x="436" y="423" width="12" height="1" fill="#aaa"/>
    <rect x="436" y="449" width="6" height="1.5" fill="#bbb"/>
    <rect x="436" y="453" width="11" height="1" fill="#aaa"/>
  </g>
  <rect x="455.5" y="420" width="42" height="28" fill="#fff"/>
  <g>
<circle cx="456.8" cy="422.0" r="0.4" fill="#111"/>
<polyline points="457.8 421.6 459.1 422.0 460.4 421.8 461.7 422.1 463.1 422.1 464.4 421.4 465.7 421.3 467.0 422.4 468.3 421.6" fill="none" stroke="#333" stroke-width="0.30" stroke-linecap="round"/>
<polyline points="469.8 421.8 471.2 422.9 472.7 422.1 474.2 422.6 475.7 422.1" fill="none" stroke="#333" stroke-width="0.30" stroke-linecap="round"/>
<ellipse cx="459.2" cy="424.4" rx="2.4" ry="0.9" fill="none" stroke="#555" stroke-width="0.33"/>
<polyline points="462.4 423.6 463.4 424.3 464.5 424.6 465.5 424.1" fill="none" stroke="#e05050" stroke-width="0.30" stroke-linecap="round"/>
<polyline points="466.6 422.7 467.1 422.6 467.5 421.8 468.0 422.8" fill="none" stroke="#50b050" stroke-width="0.39" stroke-linecap="round"/>
<polyline points="457.7 425.9 458.8 427.0 459.8 426.5 460.9 426.8" fill="none" stroke="#3a3ab0" stroke-width="0.30" stroke-linecap="round"/>
<ellipse cx="459.2" cy="430.4" rx="2.4" ry="0.9" fill="none" stroke="#555" stroke-width="0.33"/>
<polyline points="462.4 430.4 463.6 430.7 464.7 429.9 465.9 430.5" fill="none" stroke="#e05050" stroke-width="0.30" stroke-linecap="round"/>
<polyline points="466.6 428.3 467.1 429.0 467.5 428.9 468.0 427.8" fill="none" stroke="#50b050" stroke-width="0.39" stroke-linecap="round"/>
<polyline points="457.7 432.2 458.9 432.8 460.1 432.9 461.3 433.0" fill="none" stroke="#3a3ab0" stroke-width="0.30" stroke-linecap="round"/>
<ellipse cx="459.2" cy="435.7" rx="2.4" ry="0.9" fill="none" stroke="#555" stroke-width="0.33"/>
<polyline points="462.4 435.9 463.3 435.5 464.2 435.5 465.2 435.3" fill="none" stroke="#e05050" stroke-width="0.30" stroke-linecap="round"/>
<polyline points="466.6 433.3 467.1 433.5 467.5 434.3 468.0 433.0" fill="none" stroke="#50b050" stroke-width="0.39" stroke-linecap="round"/>
<polyline points="457.7 438.1 459.3 437.4 460.8 438.3 462.3 438.5" fill="none" stroke="#3a3ab0" stroke-width="0.30" stroke-linecap="round"/>
<polyline points="457.7 439.3 459.2 439.5 460.7 438.8 462.2 439.7" fill="none" stroke="#3a3ab0" stroke-width="0.30" stroke-linecap="round"/>
<ellipse cx="473.9" cy="424.4" rx="2.4" ry="0.9" fill="none" stroke="#555" stroke-width="0.33"/>
<polyline points="477.1 423.8 478.1 423.5 479.1 424.6 480.1 424.8" fill="none" stroke="#e05050" stroke-width="0.30" stroke-linecap="round"/>
<polyline points="481.3 421.8 481.8 422.8 482.2 422.3 482.7 421.9" fill="none" stroke="#50b050" stroke-width="0.39" stroke-linecap="round"/>
<polyline points="472.4 426.4 473.6 426.0 474.7 426.7 475.9 426.9" fill="none" stroke="#3a3ab0" stroke-width="0.30" stroke-linecap="round"/>
<polyline points="472.4 428.0 473.5 428.0 474.6 428.5 475.7 427.6" fill="none" stroke="#3a3ab0" stroke-width="0.30" stroke-linecap="round"/>
<ellipse cx="473.9" cy="430.4" rx="2.4" ry="0.9" fill="none" stroke="#555" stroke-width="0.33"/>
<polyline points="477.1 429.4 477.9 429.4 478.7 429.5 479.6 430.1" fill="none" stroke="#e05050" stroke-width="0.30" stroke-linecap="round"/>
<polyline points="481.3 429.0 481.8 429.0 482.2 428.1 482.7 428.1" fill="none" stroke="#50b050" stroke-width="0.39" stroke-linecap="round"/>
<polyline points="472.4 432.3 474.0 432.3 475.5 432.0 477.0 433.0" fill="none" stroke="#3a3ab0" stroke-width="0.30" stroke-linecap="round"/>
<ellipse cx="473.9" cy="435.7" rx="2.4" ry="0.9" fill="none" stroke="#555" stroke-width="0.33"/>
<polyline points="477.1 435.9 478.0 435.3 478.9 435.9 479.8 435.7" fill="none" stroke="#e05050" stroke-width="0.30" stroke-linecap="round"/>
<polyline points="481.3 433.2 481.8 434.4 482.2 434.1 482.7 433.4" fill="none" stroke="#50b050" stroke-width="0.39" stroke-linecap="round"/>
<polyline points="472.4 437.7 473.9 437.5 475.4 437.6 476.9 437.6" fill="none" stroke="#3a3ab0" stroke-width="0.30" stroke-linecap="round"/>
<ellipse cx="486.9" cy="424.4" rx="2.4" ry="0.9" fill="none" stroke="#555" stroke-width="0.33"/>
<polyline points="490.1 424.8 491.2 423.8 492.4 423.9 493.5 424.2" fill="none" stroke="#e05050" stroke-width="0.30" stroke-linecap="round"/>
<polyline points="494.3 421.9 494.8 422.6 495.3 422.2 495.8 422.2" fill="none" stroke="#50b050" stroke-width="0.39" stroke-linecap="round"/>
<polyline points="485.5 426.2 486.7 426.5 488.0 426.6 489.3 427.2" fill="none" stroke="#3a3ab0" stroke-width="0.30" stroke-linecap="round"/>
<polyline points="485.5 427.7 486.3 428.1 487.2 427.6 488.0 428.1" fill="none" stroke="#3a3ab0" stroke-width="0.30" stroke-linecap="round"/>
<ellipse cx="486.9" cy="430.4" rx="2.4" ry="0.9" fill="none" stroke="#555" stroke-width="0.33"/>
<polyline points="490.1 429.7 490.9 430.5 491.7 430.6 492.5 429.8" fill="none" stroke="#e05050" stroke-width="0.30" stroke-linecap="round"/>
<polyline points="494.3 428.8 494.8 427.8 495.3 428.8 495.8 429.0" fill="none" stroke="#50b050" stroke-width="0.39" stroke-linecap="round"/>
<polyline points="485.5 432.1 486.5 432.9 487.6 432.1 488.6 432.1" fill="none" stroke="#3a3ab0" stroke-width="0.30" stroke-linecap="round"/>
<ellipse cx="486.9" cy="435.7" rx="2.4" ry="0.9" fill="none" stroke="#555" stroke-width="0.33"/>
<polyline points="490.1 435.7 491.0 434.9 492.0 435.2 492.9 435.2" fill="none" stroke="#e05050" stroke-width="0.30" stroke-linecap="round"/>
<polyline points="494.3 434.2 494.8 433.6 495.3 434.2 495.8 433.2" fill="none" stroke="#50b050" stroke-width="0.39" stroke-linecap="round"/>
<polyline points="485.5 437.4 486.8 437.9 488.2 437.5 489.5 438.2" fill="none" stroke="#3a3ab0" stroke-width="0.30" stroke-linecap="round"/>
<polyline points="485.5 439.9 486.3 439.0 487.2 439.7 488.0 439.3" fill="none" stroke="#3a3ab0" stroke-width="0.30" stroke-linecap="round"/>
<polyline points="457.4 438.5 458.8 439.2 460.3 438.2 461.8 438.9" fill="none" stroke="#3a3ab0" stroke-width="0.30" stroke-linecap="round"/>
<polyline points="457.4 440.3 458.7 440.5 460.0 440.9 461.3 440.4" fill="none" stroke="#3a3ab0" stroke-width="0.30" stroke-linecap="round"/>
<polyline points="457.4 441.8 458.7 442.2 460.0 441.5 461.4 442.0" fill="none" stroke="#3a3ab0" stroke-width="0.30" stroke-linecap="round"/>
<polyline points="457.4 443.8 458.5 444.3 459.5 444.0 460.6 443.8" fill="none" stroke="#3a3ab0" stroke-width="0.30" stroke-linecap="round"/>
<polyline points="464.7 439.7 466.3 440.3 467.8 439.9 469.4 438.9" fill="none" stroke="#e05050" stroke-width="0.30" stroke-linecap="round"/>
<polyline points="471.5 439.0 472.9 439.4 474.3 439.4 475.7 439.7" fill="none" stroke="#3a3ab0" stroke-width="0.30" stroke-linecap="round"/>
<polyline points="471.5 441.1 472.8 441.5 474.2 441.5 475.6 441.5 476.9 441.7" fill="none" stroke="#3a3ab0" stroke-width="0.30" stroke-linecap="round"/>
<polyline points="475.7 441.9 476.4 442.0 477.1 441.7 477.8 442.8" fill="none" stroke="#e05050" stroke-width="0.30" stroke-linecap="round"/>
<polyline points="472.7 444.1 473.3 443.7 473.8 444.6 474.4 444.0" fill="none" stroke="#50b050" stroke-width="0.30" stroke-linecap="round"/>
<polyline points="483.6 440.1 484.9 440.7 486.2 440.2 487.4 440.7 488.7 440.4 489.9 440.0" fill="none" stroke="#333" stroke-width="0.30" stroke-linecap="round"/>
<polyline points="484.9 443.0 486.3 442.3 487.6 443.5 489.0 442.4 490.4 442.4" fill="none" stroke="#333" stroke-width="0.30" stroke-linecap="round"/>
<ellipse cx="461.0" cy="427.4" rx="3.1" ry="1.4" fill="none" stroke="#a8d8a8" stroke-width="0.30"/>
  </g>
</svg>

<div class="abs" style="left:188px;top:512px;font-size:14px;line-height:14px;font-weight:bold;color:#1b3a5e;">LANケーブル</div>
<div class="abs" style="left:395px;top:518px;font-size:12px;line-height:12px;font-weight:normal;-webkit-text-stroke:0.3px #222;color:#222;letter-spacing:0.2px">ネットワーク経由でアクセス。</div>
<div class="abs" style="left:401px;top:534px;font-size:12px;line-height:12px;font-weight:normal;-webkit-text-stroke:0.3px #222;color:#222;letter-spacing:0.2px">内容を閲覧、ダウンロード。</div>
<div class="abs" style="left:42px;top:311.5px;font-size:13px;line-height:13px;font-weight:bold;color:#222;">ネットワーク機能イメージ図</div>
<div class="abs" style="left:41px;top:333px;font-size:16px;line-height:16px;font-weight:bold;color:#4b2590;"><span style="display:inline-block;transform:scaleX(1.06);transform-origin:0 0;letter-spacing:0.6px">N-21J</span><span style="font-weight:normal;color:#7a7a7a;font-size:13px;line-height:13px;position:absolute;left:50px;top:-0.5px;-webkit-text-stroke:0.2px #7a7a7a">シリーズ</span></div>

<div class="abs rt" style="top:320px">ボードに書いた内容は、</div>
<div class="abs rt" style="top:350px">本体内蔵メモリに約100 枚保存可能。</div>
<div class="abs rt" style="top:410px">本体のストレージに保存した書き込み画像データを</div>
<div class="abs rt" style="top:440px">USBメモリやパソコンに取り込むことなく、</div>
<div class="abs rt" style="top:470px">ネットワークを通して確認できます。</div>

</body>
</html>
